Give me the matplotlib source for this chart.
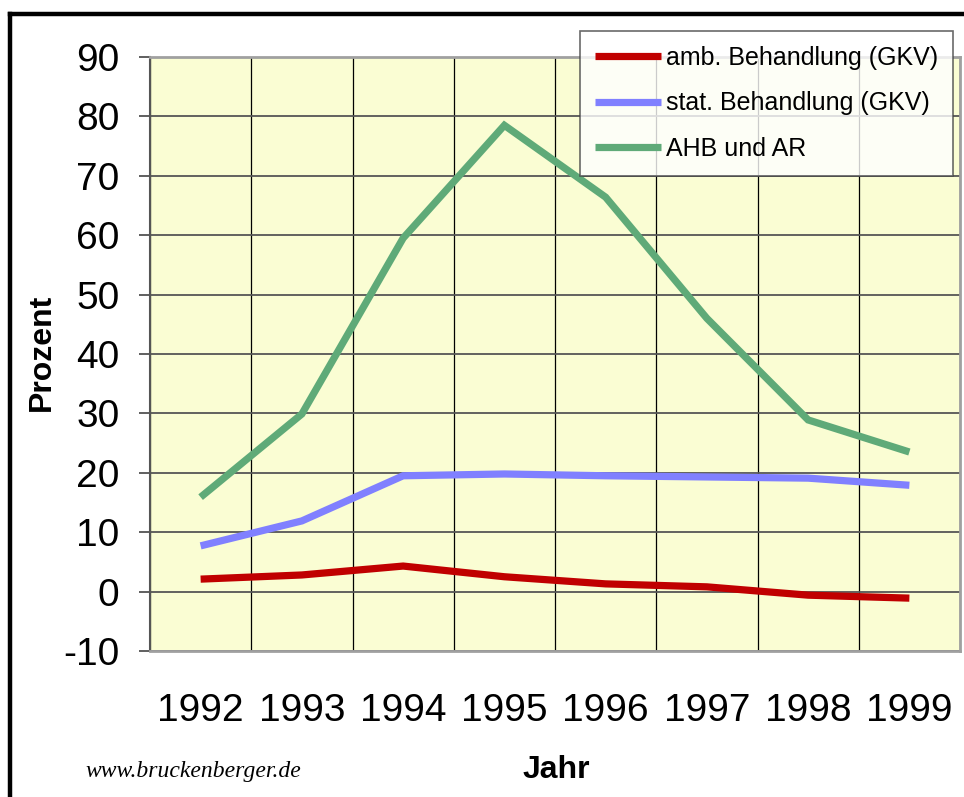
import matplotlib
matplotlib.use("Agg")
import matplotlib.pyplot as plt
from matplotlib.lines import Line2D

# Werte (Prozent)
jahre = ["1992", "1993", "1994", "1995", "1996", "1997", "1998", "1999"]
amb_gkv = [2.1, 2.8, 4.3, 2.5, 1.3, 0.8, -0.6, -1.1]
stat_gkv = [7.7, 11.9, 19.5, 19.8, 19.5, 19.3, 19.1, 17.9]
ahb_ar = [15.9, 29.9, 59.5, 78.5, 66.4, 46.0, 28.9, 23.5]

labels = ["amb. Behandlung (GKV)", "stat. Behandlung (GKV)", "AHB und AR"]
colors = ["#C00000", "#8080FF", "#5FAA78"]

plt.rcParams["axes.unicode_minus"] = False
narrow = ["Liberation Sans Narrow", "Liberation Sans", "DejaVu Sans"]
regular = ["Liberation Sans", "DejaVu Sans"]

W, H = 964, 797
fig = plt.figure(figsize=(W / 100, H / 100), dpi=100)
fig.patch.set_facecolor("white")

ax = fig.add_axes([150 / W, 1 - 651 / H, 810 / W, 594 / H])
ax.set_facecolor("#FAFDD3")

x = list(range(len(jahre)))
for series, lab, col in zip([amb_gkv, stat_gkv, ahb_ar], labels, colors):
    ax.plot(x, series, color=col, lw=5.2, label=lab, solid_capstyle="butt",
            solid_joinstyle="miter", zorder=3)

ax.set_xlim(-0.5, len(jahre) - 0.5)
ax.set_ylim(-10, 90)
ax.set_yticks(range(-10, 91, 10))
ax.set_xticks(x)
ax.set_xticklabels(jahre)
ax.set_xticks([i - 0.5 for i in range(len(jahre) + 1)], minor=True)

ax.grid(axis="y", which="major", color="#555555", lw=1.3, zorder=1)
ax.grid(axis="x", which="minor", color="black", lw=0.9, zorder=1)
ax.tick_params(axis="x", which="both", length=0, pad=30)
ax.tick_params(axis="y", length=8, width=1.2, color="#444444", pad=14, direction="out")

for lbl in ax.get_xticklabels() + ax.get_yticklabels():
    lbl.set_fontfamily(narrow)
    lbl.set_fontsize(28)
    lbl.set_fontstretch("condensed")

ax.spines["left"].set_color("#555555")
ax.spines["left"].set_linewidth(1.5)
for s in ["top", "bottom", "right"]:
    ax.spines[s].set_color("#A0A0A0")
    ax.spines[s].set_linewidth(2)

fig.text(42 / W, 1 - 352 / H, "Prozent", rotation=90, ha="center", va="center",
         fontsize=23, fontweight="bold", family=regular)
fig.text(556 / W, 1 - 770 / H, "Jahr", ha="center", va="center",
         fontsize=23, fontweight="bold", family=regular)
fig.text(85 / W, 1 - 772 / H, "www.bruckenberger.de", ha="left", va="center",
         fontsize=17, style="italic", family=["Liberation Serif", "DejaVu Serif"])

leg = fig.legend(loc="upper left", bbox_to_anchor=(580 / W, 1 - 31 / H),
                 borderaxespad=0, frameon=True, fancybox=False,
                 prop={"family": regular, "size": 18},
                 handlelength=2.65, handletextpad=0.2, labelspacing=0.85,
                 borderpad=0.6)
leg.get_frame().set_edgecolor("#444444")
leg.get_frame().set_linewidth(1.2)
for h in leg.get_lines():
    h.set_linewidth(5.2)

# schwarzer Rahmen (oben und links sichtbar)
fig.add_artist(Line2D([10 / W, 1], [1 - 14 / H, 1 - 14 / H], color="black", lw=3.2,
                      transform=fig.transFigure))
fig.add_artist(Line2D([10 / W, 10 / W], [1 - 14 / H, 0], color="black", lw=3.2,
                      transform=fig.transFigure))

fig.savefig("out.png", dpi=100)
